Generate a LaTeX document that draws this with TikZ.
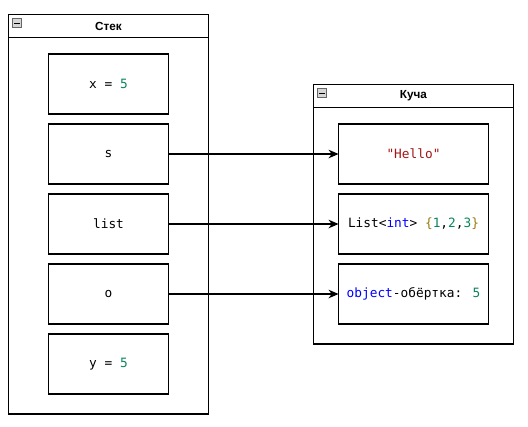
\documentclass[tikz,border=0pt]{standalone}
\usepackage{fontspec}
\setmainfont{Liberation Sans}
\newfontfamily\codefont{DejaVu Sans Mono}
\usetikzlibrary{arrows.meta}
\definecolor{numc}{HTML}{098658}
\definecolor{strc}{HTML}{A31515}
\definecolor{kwc}{HTML}{0000FF}
\definecolor{brc}{HTML}{9A7A10}
\definecolor{icong}{HTML}{D6D6D6}
\tikzset{
  container/.style={draw, line width=0.9pt, inner sep=0pt, outer sep=0pt},
  cell/.style={draw, line width=0.9pt, inner sep=0pt, outer sep=0pt, minimum height=45pt, font=\codefont\fontsize{9.6}{11}\selectfont},
  stackcell/.style={cell, minimum width=90pt},
  heapcell/.style={cell, minimum width=112.5pt},
  title/.style={font=\bfseries\fontsize{8.8}{10}\selectfont, inner sep=0pt},
  icon/.style={draw=gray!80!black, fill=icong, line width=0.5pt, minimum size=6.5pt, inner sep=0pt},
  ref/.style={line width=0.8pt, -{Stealth[length=7.5pt,width=6.5pt]}}
}
\begin{document}
\begin{tikzpicture}[x=0.75pt,y=-0.75pt]
\useasboundingbox (0,0) rectangle (528,426);
% stack
\node[container, minimum width=150pt, minimum height=299.6pt] (stack) at (108.5,214.25) {};
\coordinate (sl) at (8.5,37.5);
\coordinate (sr) at (208.5,37.5);
\draw[line width=0.9pt] (sl) -- (sr);
\node[title] (stitle) at (108.5,26) {Стек};
\node[icon] (sicon) at (17,23) {};
\draw[line width=0.6pt] ([xshift=1.3pt]sicon.west) -- ([xshift=-1.3pt]sicon.east);
% heap
\node[container, minimum width=150pt, minimum height=194.6pt] (heap) at (413.5,214.25) {};
\coordinate (hl) at (313.5,107.5);
\coordinate (hr) at (513.5,107.5);
\draw[line width=0.9pt] (hl) -- (hr);
\node[title] (htitle) at (413.5,96) {Куча};
\node[icon] (hicon) at (322,93) {};
\draw[line width=0.6pt] ([xshift=1.3pt]hicon.west) -- ([xshift=-1.3pt]hicon.east);
% stack cells
\node[stackcell] (x) at (108.5,84) {x = \textcolor{numc}{5}};
\node[stackcell] (s) at (108.5,154) {s};
\node[stackcell] (list) at (108.5,224) {list};
\node[stackcell] (o) at (108.5,294) {o};
\node[stackcell] (y) at (108.5,364) {y = \textcolor{numc}{5}};
% heap cells
\node[heapcell] (hello) at (413.5,154) {\textcolor{strc}{"Hello"}};
\node[heapcell] (hlist) at (413.5,224) {List<\textcolor{kwc}{int}> \textcolor{brc}{\{}\textcolor{numc}{1},\textcolor{numc}{2},\textcolor{numc}{3}\textcolor{brc}{\}}};
\node[heapcell] (hobj) at (413.5,294) {\textcolor{kwc}{object}-обёртка: \textcolor{numc}{5}};
% references
\draw[ref] (s) -- (hello);
\draw[ref] (list) -- (hlist);
\draw[ref] (o) -- (hobj);
\end{tikzpicture}
\end{document}
